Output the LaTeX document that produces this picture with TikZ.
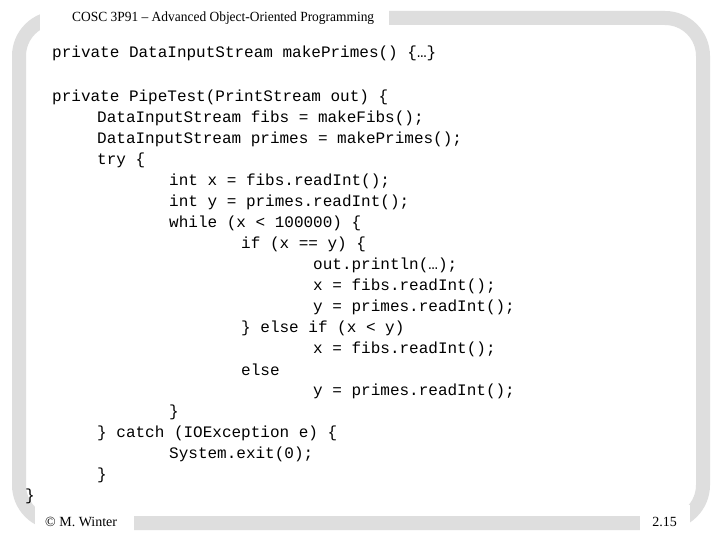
\documentclass[tikz,border=0pt]{standalone}
\usepackage{fontspec}
\setmainfont{Liberation Serif}
\setmonofont{Liberation Mono}
\begin{document}
\begin{tikzpicture}[x=1pt,y=-1pt,
  code/.style={anchor=west,inner sep=0pt,font=\ttfamily\fontsize{16}{16}\selectfont},
  lab/.style={inner sep=0pt,font=\fontsize{14}{14}\selectfont}]
\useasboundingbox (0,0) rectangle (720,540);
\fill[white] (0,0) rectangle (720,540);
\draw[line width=14pt,color=black!13,rounded corners=38pt] (19,18) rectangle (703,523);
\fill[white] (40,0) rectangle (389,35);
\fill[white] (35,505) rectangle (134,540);
\fill[white] (640,505) rectangle (690,540);
\node[lab,anchor=west] (t) at (72,18) {\scalebox{0.96}[1]{COSC 3P91 – Advanced Object-Oriented Programming}};
\node[lab,anchor=west] (f) at (45,522) {© M. Winter};
\node[lab,anchor=east] (p) at (677,522) {2.15};
\node[code] (l1) at (52,53) {private DataInputStream makePrimes() \{…\}};
\node[code] (l2) at (52,97) {private PipeTest(PrintStream out) \{};
\node[code] (l3) at (97,118) {DataInputStream fibs = makeFibs();};
\node[code] (l4) at (97,139) {DataInputStream primes = makePrimes();};
\node[code] (l5) at (97,160) {try \{};
\node[code] (l6) at (169,181) {int x = fibs.readInt();};
\node[code] (l7) at (169,202) {int y = primes.readInt();};
\node[code] (l8) at (169,223) {while (x < 100000) \{};
\node[code] (l9) at (241,244) {if (x == y) \{};
\node[code] (l10) at (313,265) {out.println(…);};
\node[code] (l11) at (313,286) {x = fibs.readInt();};
\node[code] (l12) at (313,307) {y = primes.readInt();};
\node[code] (l13) at (241,328) {\} else if (x < y)};
\node[code] (l14) at (313,349) {x = fibs.readInt();};
\node[code] (l15) at (241,370) {else};
\node[code] (l16) at (313,391) {y = primes.readInt();};
\node[code] (l17) at (169,412) {\}};
\node[code] (l18) at (97,433) {\} catch (IOException e) \{};
\node[code] (l19) at (169,454) {System.exit(0);};
\node[code] (l20) at (97,475) {\}};
\node[code] (l21) at (25,496) {\}};
\end{tikzpicture}
\end{document}
